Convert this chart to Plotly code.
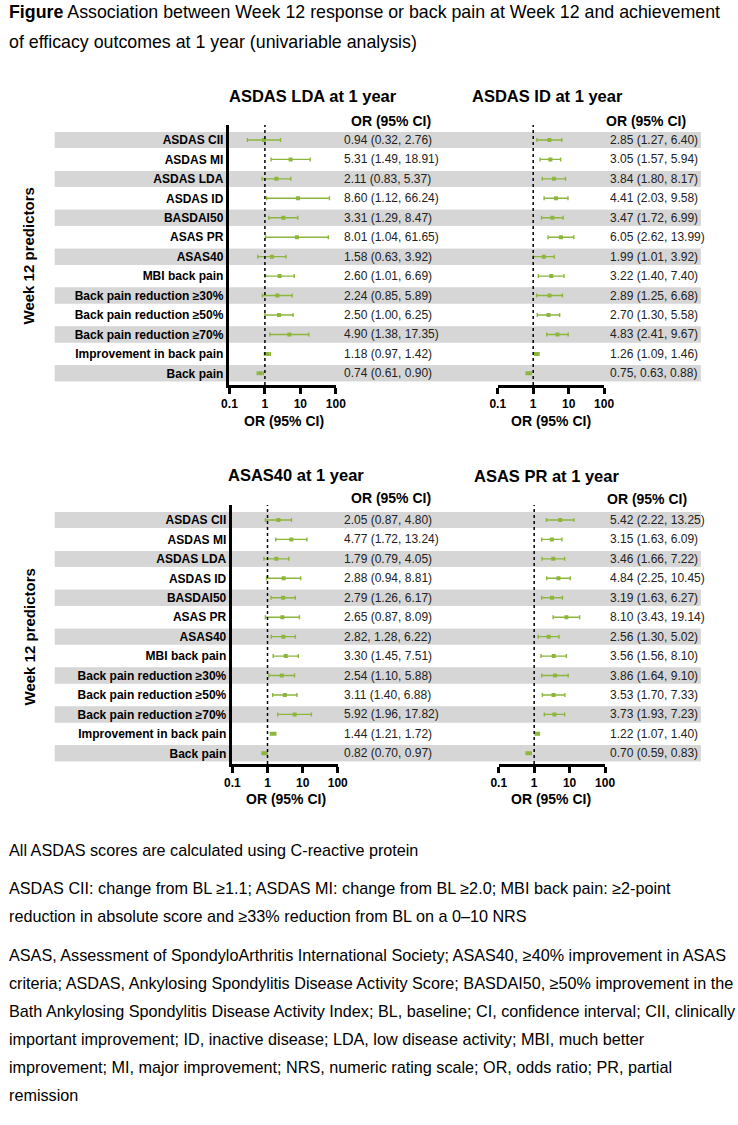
import plotly.graph_objects as go

# ---------------- data ----------------
predictors = ["ASDAS CII", "ASDAS MI", "ASDAS LDA", "ASDAS ID", "BASDAI50", "ASAS PR",
              "ASAS40", "MBI back pain", "Back pain reduction ≥30%", "Back pain reduction ≥50%",
              "Back pain reduction ≥70%", "Improvement in back pain", "Back pain"]

panel_titles = ["ASDAS LDA at 1 year", "ASDAS ID at 1 year", "ASAS40 at 1 year", "ASAS PR at 1 year"]

lda_or = [0.94, 5.31, 2.11, 8.60, 3.31, 8.01, 1.58, 2.60, 2.24, 2.50, 4.90, 1.18, 0.74]
lda_lo = [0.32, 1.49, 0.83, 1.12, 1.29, 1.04, 0.63, 1.01, 0.85, 1.00, 1.38, 0.97, 0.61]
lda_hi = [2.76, 18.91, 5.37, 66.24, 8.47, 61.65, 3.92, 6.69, 5.89, 6.25, 17.35, 1.42, 0.90]

id_or = [2.85, 3.05, 3.84, 4.41, 3.47, 6.05, 1.99, 3.22, 2.89, 2.70, 4.83, 1.26, 0.75]
id_lo = [1.27, 1.57, 1.80, 2.03, 1.72, 2.62, 1.01, 1.40, 1.25, 1.30, 2.41, 1.09, 0.63]
id_hi = [6.40, 5.94, 8.17, 9.58, 6.99, 13.99, 3.92, 7.40, 6.68, 5.58, 9.67, 1.46, 0.88]

asas40_or = [2.05, 4.77, 1.79, 2.88, 2.79, 2.65, 2.82, 3.30, 2.54, 3.11, 5.92, 1.44, 0.82]
asas40_lo = [0.87, 1.72, 0.79, 0.94, 1.26, 0.87, 1.28, 1.45, 1.10, 1.40, 1.96, 1.21, 0.70]
asas40_hi = [4.80, 13.24, 4.05, 8.81, 6.17, 8.09, 6.22, 7.51, 5.88, 6.88, 17.82, 1.72, 0.97]

pr_or = [5.42, 3.15, 3.46, 4.84, 3.19, 8.10, 2.56, 3.56, 3.86, 3.53, 3.73, 1.22, 0.70]
pr_lo = [2.22, 1.63, 1.66, 2.25, 1.63, 3.43, 1.30, 1.56, 1.64, 1.70, 1.93, 1.07, 0.59]
pr_hi = [13.25, 6.09, 7.22, 10.45, 6.27, 19.14, 5.02, 8.10, 9.10, 7.33, 7.23, 1.40, 0.83]

# CI text as printed in the source (two entries are missing the opening parenthesis)
ci_text_overrides = {(1, 12): "0.75, 0.63, 0.88)", (2, 6): "2.82, 1.28, 6.22)"}

tick_vals = [0.1, 1, 10, 100]
tick_text = ["0.1", "1", "10", "100"]

caption_lines = [
    "<b>Figure</b> Association between Week 12 response or back pain at Week 12 and achievement",
    "of efficacy outcomes at 1 year (univariable analysis)",
]
footnote_lines = [
    "All ASDAS scores are calculated using C-reactive protein",
    "ASDAS CII: change from BL ≥1.1; ASDAS MI: change from BL ≥2.0; MBI back pain: ≥2-point",
    "reduction in absolute score and ≥33% reduction from BL on a 0–10 NRS",
    "ASAS, Assessment of SpondyloArthritis International Society; ASAS40, ≥40% improvement in ASAS",
    "criteria; ASDAS, Ankylosing Spondylitis Disease Activity Score; BASDAI50, ≥50% improvement in the",
    "Bath Ankylosing Spondylitis Disease Activity Index; BL, baseline; CI, confidence interval; CII, clinically",
    "important improvement; ID, inactive disease; LDA, low disease activity; MBI, much better",
    "improvement; MI, major improvement; NRS, numeric rating scale; OR, odds ratio; PR, partial",
    "remission",
]
footnote_y = [850, 888, 916, 955, 983, 1011, 1039, 1067, 1095]

# ---------------- layout helpers ----------------
W, H = 738, 1125
FONT = "Arial, 'Liberation Sans', sans-serif"
GREEN = "#8DB63C"
STRIPE = "#D6D6D6"


def px(p):
    return p / W


def py(p):
    return 1 - p / H


n = len(predictors)
yvals = [n - 1 - i for i in range(n)]

panels = [
    dict(or_=lda_or, lo=lda_lo, hi=lda_hi, xdom=(227, 336), ydom=(125, 385), yr=[-0.6, 12.77],
         left=True, tx=313, ty=96, hx=350, hy=121, vx=342, atx=283, aty=421),
    dict(or_=id_or, lo=id_lo, hi=id_hi, xdom=(502, 611), ydom=(125, 385), yr=[-0.6, 12.77],
         left=False, tx=553, ty=96, hx=611, hy=121, vx=615, atx=557, aty=421),
    dict(or_=asas40_or, lo=asas40_lo, hi=asas40_hi, xdom=(230, 338), ydom=(505, 764), yr=[-0.55, 12.77],
         left=True, tx=295, ty=475, hx=350, hy=498, vx=342, atx=285, aty=799),
    dict(or_=pr_or, lo=pr_lo, hi=pr_hi, xdom=(503, 612), ydom=(505, 764), yr=[-0.55, 12.77],
         left=False, tx=552, ty=476, hx=612, hy=499, vx=615, atx=557, aty=799),
]

fig = go.Figure()
shapes = []
annotations = []
layout_axes = {}

for k, p in enumerate(panels):
    idx = "" if k == 0 else str(k + 1)
    xa, ya = "x" + idx, "y" + idx
    fig.add_trace(go.Scatter(
        x=p["or_"], y=yvals, mode="markers", xaxis=xa, yaxis=ya, showlegend=False,
        marker=dict(symbol="square", size=4, color=GREEN),
        error_x=dict(type="data", symmetric=False,
                     array=[h - o for h, o in zip(p["hi"], p["or_"])],
                     arrayminus=[o - l for o, l in zip(p["or_"], p["lo"])],
                     color=GREEN, thickness=1.4, width=2),
        hoverinfo="skip",
    ))
    layout_axes["xaxis" + idx] = dict(
        type="log", range=[-1, 2], domain=[px(p["xdom"][0]), px(p["xdom"][1])], anchor=ya,
        showline=True, linewidth=2.5, linecolor="black", ticks="outside", ticklen=6, tickwidth=2.5,
        tickcolor="black", tickvals=tick_vals, ticktext=tick_text, showgrid=False, zeroline=False,
        tickfont=dict(family=FONT, size=12, color="black", weight="bold"),
    )
    ydict = dict(
        range=p["yr"], domain=[py(p["ydom"][1]), py(p["ydom"][0])], anchor=xa,
        showgrid=False, zeroline=False, fixedrange=True,
    )
    if p["left"]:
        ydict.update(showline=True, linewidth=2.5, linecolor="black", ticks="",
                     tickvals=yvals, ticktext=predictors, ticklabelstandoff=1,
                     tickfont=dict(family=FONT, size=12, color="black", weight="bold"))
    else:
        ydict.update(showline=False, showticklabels=False, ticks="")
    layout_axes["yaxis" + idx] = ydict

    # alternating stripes
    for i, v in enumerate(yvals):
        if i % 2 == 0:
            shapes.append(dict(type="rect", xref="paper", yref=ya, x0=px(48), x1=px(710),
                               y0=v - 0.41, y1=v + 0.41, fillcolor=STRIPE, line=dict(width=0),
                               layer="below"))
    # reference line at OR = 1
    shapes.append(dict(type="line", xref=xa, yref=ya + " domain", x0=1, x1=1, y0=0, y1=1,
                       line=dict(color="black", width=1.5, dash="dot")))

    # panel title, header, axis title
    annotations.append(dict(text="<b>" + panel_titles[k] + "</b>", x=px(p["tx"]), y=py(p["ty"]),
                            xref="paper", yref="paper", xanchor="center", yanchor="middle",
                            showarrow=False, font=dict(family=FONT, size=16.5, color="black")))
    annotations.append(dict(text="<b>OR (95% CI)</b>", x=px(p["hx"]), y=py(p["hy"]),
                            xref="paper", yref="paper", xanchor="left", yanchor="middle",
                            showarrow=False, font=dict(family=FONT, size=14, color="black")))
    annotations.append(dict(text="<b>OR (95% CI)</b>", x=px(p["atx"]), y=py(p["aty"]),
                            xref="paper", yref="paper", xanchor="center", yanchor="middle",
                            showarrow=False, font=dict(family=FONT, size=14, color="black")))
    # OR (95% CI) values
    for i, v in enumerate(yvals):
        txt = ci_text_overrides.get((k, i),
                                    f"{p['or_'][i]:.2f} ({p['lo'][i]:.2f}, {p['hi'][i]:.2f})")
        annotations.append(dict(text=txt, x=px(p["vx"]), y=v, xref="paper", yref=ya,
                                xanchor="left", yanchor="middle", showarrow=False,
                                font=dict(family=FONT, size=12, color="#222222")))

# side labels
for cy in (256, 637):
    annotations.append(dict(text="<b>Week 12 predictors</b>", x=px(22), y=py(cy), xref="paper",
                            yref="paper", textangle=-90, xanchor="center", yanchor="middle",
                            showarrow=False, font=dict(family=FONT, size=15, color="black")))

# caption
for j, line in enumerate(caption_lines):
    annotations.append(dict(text=line, x=0, y=py(12 + 30 * j), xref="paper", yref="paper",
                            xanchor="left", yanchor="middle", showarrow=False, borderpad=0,
                            font=dict(family=FONT, size=17.8, color="black")))

# footnotes
for line, yy in zip(footnote_lines, footnote_y):
    annotations.append(dict(text=line, x=0, y=py(yy), xref="paper", yref="paper",
                            xanchor="left", yanchor="middle", showarrow=False, borderpad=0,
                            font=dict(family=FONT, size=16.2, color="black")))

fig.update_layout(
    width=W, height=H, margin=dict(l=0, r=0, t=0, b=0),
    paper_bgcolor="white", plot_bgcolor="rgba(0,0,0,0)",
    shapes=shapes, annotations=annotations, showlegend=False,
    font=dict(family=FONT, color="black"),
    **layout_axes,
)

# remove the default 8px page margin so the 738x1125 figure fills the window exactly
fig.write_html("out.html", config={"displayModeBar": False},
               post_script="document.body.style.margin='0px';")
